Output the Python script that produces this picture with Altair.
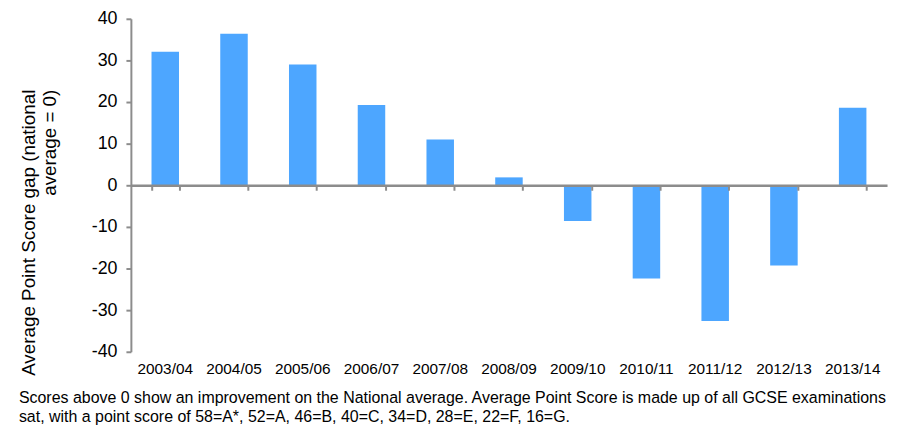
import altair as alt
import pandas as pd

years = ["2003/04", "2004/05", "2005/06", "2006/07", "2007/08", "2008/09",
         "2009/10", "2010/11", "2011/12", "2012/13", "2013/14"]
gap = [32.1, 36.4, 29.0, 19.3, 11.0, 1.9, -8.6, -22.4, -32.6, -19.3, 18.6]

y_ticks = [-40, -30, -20, -10, 0, 10, 20, 30, 40]

footer = [
    "Scores above 0 show an improvement on the National average. Average Point Score is made up of all GCSE examinations",
    "sat, with a point score of 58=A*, 52=A, 46=B, 40=C, 34=D, 28=E, 22=F, 16=G.",
]

df = pd.DataFrame({"year": years, "gap": gap})

FONT = "Liberation Sans"
GRAY = "#8c8c8c"

x_scale = alt.Scale(domain=years, paddingInner=0.6, paddingOuter=0.3)
y_scale = alt.Scale(domain=[-40, 40], nice=False)

bars = alt.Chart(df).mark_bar(color="#4DA6FF").encode(
    x=alt.X("year:N", scale=x_scale, sort=years,
            axis=alt.Axis(orient="bottom", title=None, domain=False, ticks=False,
                          labelAngle=0, labelFontSize=15.5, labelColor="black",
                          labelFont=FONT, labelPadding=10)),
    y=alt.Y("gap:Q", scale=y_scale,
            axis=alt.Axis(values=y_ticks, grid=False, domainColor=GRAY, domainWidth=2,
                          tickColor=GRAY, tickWidth=2, tickSize=5,
                          labelFontSize=18, labelColor="black", labelFont=FONT,
                          labelPadding=9, labelExpr="'' + datum.value",
                          title=["Average Point Score gap (national", "average = 0)"],
                          titleFont=FONT, titleFontSize=19, titleFontWeight="normal",
                          titleColor="black", titleAngle=-90, titleAlign="right",
                          titleBaseline="top", titleX=-112, titleY=71,
                          titleLineHeight=21)),
)

zero_axis = alt.Chart(df).mark_bar(opacity=0).encode(
    x=alt.X("year:N", scale=x_scale, sort=years,
            axis=alt.Axis(orient="bottom", title=None, labels=False,
                          domainColor=GRAY, domainWidth=2.5, tickColor=GRAY,
                          tickWidth=2, tickSize=5, tickBand="extent",
                          offset=-168, zindex=1)),
    y=alt.Y("gap:Q", scale=y_scale),
)

chart = alt.layer(bars, zero_axis).resolve_axis(x="independent").properties(
    width=763, height=336,
    autosize=alt.AutoSizeParams(type="none"),
    padding={"left": 124, "top": 9, "right": 4, "bottom": 72},
    title=alt.TitleParams(text=footer, orient="bottom", anchor="start",
                          frame="group", dx=-113, offset=13, font=FONT,
                          fontSize=16.1, fontWeight="normal", color="black",
                          lineHeight=19),
).configure(background="white").configure_view(stroke=None)

chart.save("out.html", embed_options={"renderer": "svg", "actions": False})
